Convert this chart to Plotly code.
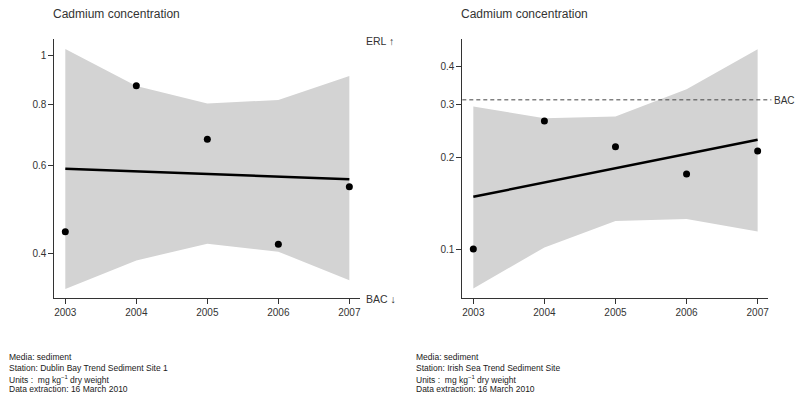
import plotly.graph_objects as go
import numpy as np

years = [2003, 2004, 2005, 2006, 2007]

# Left panel: Dublin Bay Trend Sediment Site 1
left_points = [0.442, 0.871, 0.679, 0.417, 0.545]
left_trend = [0.592, 0.564]
left_upper = [1.033, 0.870, 0.802, 0.815, 0.911]
left_lower = [0.339, 0.387, 0.418, 0.403, 0.353]
left_ticks = [0.4, 0.6, 0.8, 1]
left_ticktext = ["0.4", "0.6", "0.8", "1"]

# Right panel: Irish Sea Trend Sediment Site
right_points = [0.100, 0.265, 0.2176, 0.177, 0.2106]
right_trend = [0.1488, 0.2295]
right_upper = [0.2955, 0.2706, 0.274, 0.337, 0.457]
right_lower = [0.0741, 0.1012, 0.1237, 0.1256, 0.1143]
right_ticks = [0.1, 0.2, 0.3, 0.4]
right_ticktext = ["0.1", "0.2", "0.3", "0.4"]
right_bac = 0.311

title_text = "Cadmium concentration"
left_footer = ["Media: sediment", "Station: Dublin Bay Trend Sediment Site 1",
               "Units :  mg kg<sup>−1</sup> dry weight", "Data extraction: 16 March 2010"]
right_footer = ["Media: sediment", "Station: Irish Sea Trend Sediment Site",
                "Units :  mg kg<sup>−1</sup> dry weight", "Data extraction: 16 March 2010"]

W, H = 796, 399
FONT = "Liberation Sans, Arial, sans-serif"

fig = go.Figure()

def add_panel(xa, ya, pts, trend, up, lo):
    fig.add_trace(go.Scatter(
        x=years + years[::-1], y=up + lo[::-1], fill="toself",
        fillcolor="#d3d3d3", line=dict(width=0), mode="lines",
        hoverinfo="skip", showlegend=False, xaxis=xa, yaxis=ya))
    fig.add_trace(go.Scatter(
        x=[years[0], years[-1]], y=trend, mode="lines",
        line=dict(color="black", width=2.5), showlegend=False, xaxis=xa, yaxis=ya))
    fig.add_trace(go.Scatter(
        x=years, y=pts, mode="markers",
        marker=dict(color="black", size=7), showlegend=False, xaxis=xa, yaxis=ya))

add_panel("x", "y", left_points, left_trend, left_upper, left_lower)
add_panel("x2", "y2", right_points, right_trend, right_upper, right_lower)

ydom = [(H - 298) / H, (H - 39) / H]
axis_common = dict(showline=True, linecolor="#333", linewidth=1, ticks="outside",
                   ticklen=5, tickcolor="#333", showgrid=False, zeroline=False,
                   tickfont=dict(family=FONT, size=10, color="#333"))
xrange = [2002.845, 2007.15]

fig.update_layout(
    width=W, height=H, margin=dict(l=0, r=0, t=0, b=0),
    paper_bgcolor="white", plot_bgcolor="white", showlegend=False,
    xaxis=dict(domain=[54.3 / W, 360 / W], range=xrange, tickvals=years,
               ticktext=[str(y) for y in years], anchor="y", **axis_common),
    yaxis=dict(domain=ydom, type="log", range=[np.log10(0.325), np.log10(1.082)],
               tickvals=left_ticks, ticktext=left_ticktext, anchor="x", **axis_common),
    xaxis2=dict(domain=[462.3 / W, 768.3 / W], range=xrange, tickvals=years,
                ticktext=[str(y) for y in years], anchor="y2", **axis_common),
    yaxis2=dict(domain=ydom, type="log", range=[np.log10(0.0689), np.log10(0.494)],
                tickvals=right_ticks, ticktext=right_ticktext, anchor="x2", **axis_common),
)

# BAC dashed line on right panel
fig.add_shape(type="line", xref="x2 domain", yref="y2", x0=0, x1=1.01,
              y0=right_bac, y1=right_bac, line=dict(color="#444", width=1, dash="4px,3px"))

ann_font = dict(family=FONT, size=10.5, color="#333")
annotations = [
    dict(x=52 / W, y=1 - 14 / H, text=title_text, font=dict(family=FONT, size=12, color="#333")),
    dict(x=460 / W, y=1 - 14 / H, text=title_text, font=dict(family=FONT, size=12, color="#333")),
    dict(x=365 / W, y=1 - 41 / H, text="ERL ↑", font=ann_font),
    dict(x=365 / W, y=1 - 299 / H, text="BAC ↓", font=ann_font),
    dict(x=773 / W, y=1 - 100 / H, text="BAC", font=dict(family=FONT, size=10, color="#333")),
]
footer_y = [357, 367.5, 379, 389]
for xs, lines in ((8, left_footer), (415, right_footer)):
    for yy, line in zip(footer_y, lines):
        annotations.append(dict(x=xs / W, y=1 - yy / H, text=line,
                                font=dict(family=FONT, size=8.5, color="#1a1a1a")))
for a in annotations:
    fig.add_annotation(xref="paper", yref="paper", xanchor="left", yanchor="middle",
                       showarrow=False, align="left", borderpad=0, **a)

fig.write_html("out.html")
